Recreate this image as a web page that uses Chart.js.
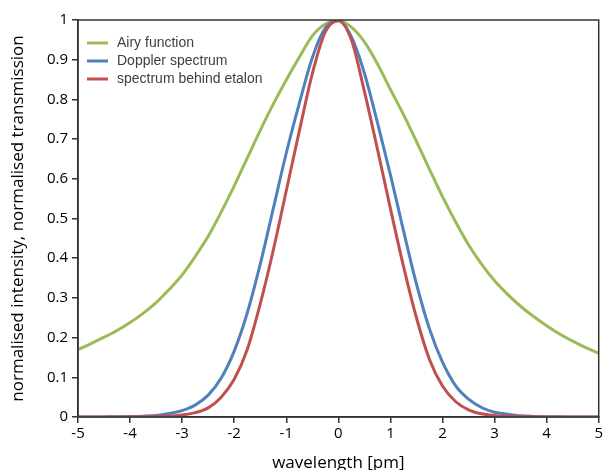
<!DOCTYPE html>
<html>
<head>
<meta charset="utf-8">
<script src="https://cdn.jsdelivr.net/npm/chart.js@4.4.0/dist/chart.umd.min.js"></script>
<style>
  html, body { margin: 0; padding: 0; background: #fff; }
  #wrap { width: 605px; height: 470px; }
</style>
</head>
<body>
<div id="wrap"><canvas id="chart" width="605" height="470"></canvas></div>
<script>
// values, every 0.25 pm
const wavelength = [-5, -4.75, -4.5, -4.25, -4, -3.75, -3.5, -3.25, -3, -2.75, -2.5, -2.25, -2, -1.75, -1.5, -1.25, -1, -0.75, -0.5, -0.25,
                    0, 0.25, 0.5, 0.75, 1, 1.25, 1.5, 1.75, 2, 2.25, 2.5, 2.75, 3, 3.25, 3.5, 3.75, 4, 4.25, 4.5, 4.75, 5];
const airy = [0.170, 0.185, 0.201, 0.218, 0.238, 0.261, 0.288, 0.321, 0.358, 0.404, 0.455, 0.516, 0.582, 0.652, 0.722, 0.788, 0.849, 0.906, 0.960, 0.990,
              0.999, 0.982, 0.945, 0.890, 0.825, 0.762, 0.694, 0.624, 0.555, 0.492, 0.434, 0.385, 0.343, 0.309, 0.279, 0.253, 0.230, 0.209, 0.191, 0.175, 0.161];
const doppler = [0, 0, 0.0003, 0.0006, 0.001, 0.002, 0.004, 0.009, 0.016, 0.030, 0.055, 0.098, 0.166, 0.262, 0.385, 0.525, 0.665, 0.790, 0.905, 0.980,
                 0.999, 0.958, 0.866, 0.742, 0.610, 0.470, 0.335, 0.222, 0.138, 0.079, 0.045, 0.024, 0.012, 0.007, 0.003, 0.0015, 0.0008, 0.0004, 0.0002, 0, 0];
const etalon = [0, 0, 0, 0.0001, 0.0003, 0.0006, 0.0012, 0.0025, 0.005, 0.011, 0.023, 0.050, 0.095, 0.170, 0.285, 0.420, 0.570, 0.720, 0.865, 0.970,
                0.998, 0.950, 0.820, 0.675, 0.525, 0.380, 0.250, 0.145, 0.078, 0.039, 0.018, 0.008, 0.004, 0.002, 0.001, 0.0004, 0.0002, 0.0001, 0, 0, 0];

const seriesNames = ['Airy function', 'Doppler spectrum', 'spectrum behind etalon'];
const xTickLabels = ['-5', '-4', '-3', '-2', '-1', '0', '1', '2', '3', '4', '5'];
const yTickLabels = ['0', '0.1', '0.2', '0.3', '0.4', '0.5', '0.6', '0.7', '0.8', '0.9', '1'];

function points(ys) {
    return wavelength.map((x, i) => ({x: x, y: ys[i]}));
}

const axisColor = '#333333';
const tickFont = {family: 'Open Sans', size: 15};

// frame round the plot area and legend inside it
const boxAndLegend = {
    id: 'boxAndLegend',
    afterDraw(chart) {
        const ctx = chart.ctx;
        const a = chart.chartArea;
        ctx.save();
        ctx.strokeStyle = axisColor;
        ctx.lineWidth = 1.5;
        ctx.strokeRect(a.left, a.top, a.right - a.left, a.bottom - a.top);

        ctx.font = '14px "Liberation Sans", Arial, sans-serif';
        ctx.textBaseline = 'middle';
        chart.data.datasets.forEach((ds, i) => {
            const y = a.top + 23 + i * 18;
            ctx.strokeStyle = ds.borderColor;
            ctx.lineWidth = 3;
            ctx.beginPath();
            ctx.moveTo(a.left + 9, y);
            ctx.lineTo(a.left + 30, y);
            ctx.stroke();
            ctx.fillStyle = '#404040';
            ctx.fillText(ds.label, a.left + 39, y);
        });
        ctx.restore();
    }
};

const config = {
    type: 'line',
    data: {
        datasets: [
            {label: seriesNames[0], data: points(airy), borderColor: '#9BBB59', order: 3},
            {label: seriesNames[1], data: points(doppler), borderColor: '#4F81BD', order: 2},
            {label: seriesNames[2], data: points(etalon), borderColor: '#C0504D', order: 1}
        ]
    },
    options: {
        responsive: false,
        animation: false,
        events: [],
        layout: {padding: {left: 0, top: 20, right: 5, bottom: 0}},
        elements: {
            line: {borderWidth: 3, cubicInterpolationMode: 'monotone', fill: false},
            point: {radius: 0}
        },
        plugins: {
            legend: {display: false},
            tooltip: {enabled: false}
        },
        scales: {
            x: {
                type: 'linear',
                min: -5,
                max: 5,
                afterBuildTicks: (scale) => {
                    scale.ticks = xTickLabels.map(t => ({value: Number(t)}));
                },
                afterFit: (scale) => { scale.height = 53; },
                ticks: {
                    color: '#000',
                    font: tickFont,
                    padding: 2,
                    maxRotation: 0,
                    autoSkip: false,
                    callback: (v, i) => xTickLabels[i]
                },
                grid: {drawOnChartArea: false, drawTicks: true, tickLength: 6, color: axisColor, lineWidth: 1.5},
                border: {display: true, color: axisColor, width: 1.5},
                title: {
                    display: true,
                    text: 'wavelength [pm]',
                    color: '#000',
                    font: {family: 'Open Sans', size: 17, lineHeight: 0.8},
                    padding: 0
                }
            },
            y: {
                type: 'linear',
                min: 0,
                max: 1,
                afterBuildTicks: (scale) => {
                    scale.ticks = yTickLabels.map(t => ({value: Number(t)}));
                },
                afterFit: (scale) => { scale.width = 78; },
                ticks: {
                    color: '#000',
                    font: tickFont,
                    padding: 4,
                    autoSkip: false,
                    callback: (v, i) => yTickLabels[i]
                },
                grid: {drawOnChartArea: false, drawTicks: true, tickLength: 6, color: axisColor, lineWidth: 1.5},
                border: {display: true, color: axisColor, width: 1.5},
                title: {
                    display: true,
                    text: 'normalised intensity, normalised transmission',
                    color: '#000',
                    font: {family: 'Open Sans', size: 17, lineHeight: 1.2},
                    padding: {top: 8, bottom: 0}
                }
            }
        }
    },
    plugins: [boxAndLegend]
};

new Chart(document.getElementById('chart'), config);
</script>
</body>
</html>
